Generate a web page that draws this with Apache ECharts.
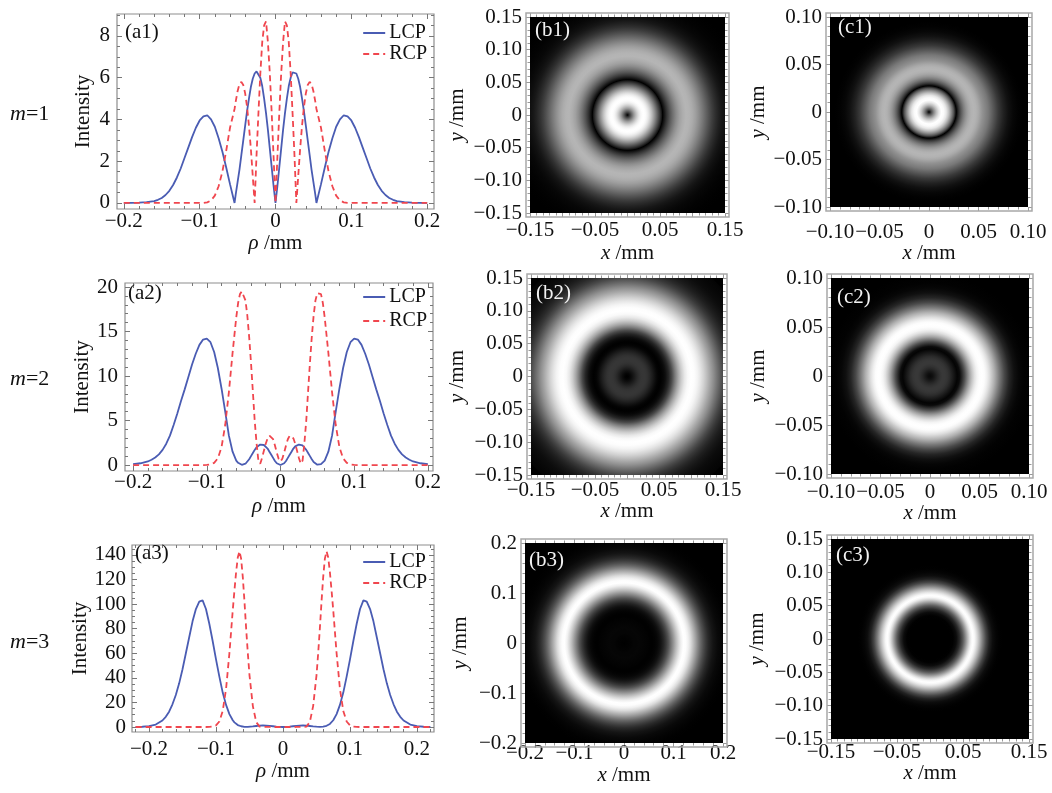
<!DOCTYPE html>
<html><head><meta charset="utf-8">
<script src="https://cdn.jsdelivr.net/npm/echarts@6/dist/echarts.min.js"></script>
<style>html,body{margin:0;padding:0;background:#fff}#c{width:1052px;height:793px}</style>
</head><body><div id="c"></div>
<script>
// ---------- DATA (positive-rho half of each symmetric profile) ----------
// m = 1
const rho1 = [0,0.0025,0.005,0.0075,0.01,0.0125,0.015,0.0175,0.02,0.0225,0.025,0.0275,0.03,0.0325,0.035,0.0375,0.04,0.0425,0.045,0.0475,0.05,0.0525,0.054,0.06,0.065,0.07,0.075,0.08,0.085,0.09,0.095,0.1,0.105,0.11,0.115,0.12,0.125,0.13,0.135,0.14,0.145,0.15,0.155,0.16,0.17,0.18,0.19,0.2];
const lcp1 = [0,0.8,1.7,2.6,3.5,4.3,5.0,5.6,6.0,6.25,6.3,6.2,5.95,5.55,5.0,4.4,3.7,3.0,2.3,1.6,1.0,0.4,0,0.9,1.7,2.45,3.1,3.65,4.0,4.2,4.15,3.95,3.6,3.15,2.65,2.15,1.65,1.22,0.86,0.58,0.38,0.24,0.15,0.09,0.035,0.012,0.004,0];
const rcp1 = [0,2.2,4.3,6.2,7.7,8.7,8.5,7.7,6.2,4.3,2.3,0,1.3,2.6,3.7,4.6,5.25,5.65,5.8,5.7,5.35,4.85,4.5,3.6,2.5,1.5,0.8,0.35,0.12,0.03,0.005,0,0,0,0,0,0,0,0,0,0,0,0,0,0,0,0,0];
// m = 2
const rho2 = [0,0.0025,0.005,0.0075,0.01,0.0125,0.015,0.0175,0.02,0.0225,0.025,0.0275,0.03,0.0325,0.035,0.0375,0.04,0.0425,0.045,0.0475,0.05,0.0525,0.055,0.0575,0.06,0.065,0.07,0.075,0.08,0.085,0.09,0.095,0.1,0.105,0.11,0.115,0.12,0.125,0.13,0.135,0.14,0.145,0.15,0.155,0.16,0.165,0.17,0.175,0.18,0.19,0.2];
const lcp2 = [0,0.05,0.2,0.45,0.8,1.15,1.5,1.85,2.1,2.25,2.3,2.3,2.2,2.0,1.7,1.35,1.0,0.65,0.35,0.15,0.04,0.03,0.1,0.25,0.5,1.5,3.3,6.0,8.6,10.9,12.7,13.8,14.2,14.1,13.5,12.5,11.3,9.9,8.5,7.2,5.8,4.5,3.3,2.4,1.7,1.2,0.85,0.6,0.4,0.2,0.1];
const rcp2 = [0.4,0.7,1.4,2.2,2.9,3.3,3.3,3.0,2.4,1.6,0.8,0.15,0.5,2.5,5.0,8.3,11.5,14.4,16.8,18.5,19.3,19.5,19.2,18.2,16.6,12.6,8.2,4.5,2.0,0.75,0.25,0.07,0.02,0,0,0,0,0,0,0,0,0,0,0,0,0,0,0,0,0,0];
// m = 3
const rho3 = [0,0.005,0.01,0.015,0.02,0.025,0.03,0.035,0.04,0.045,0.05,0.0525,0.055,0.0575,0.06,0.0625,0.065,0.0675,0.07,0.0725,0.075,0.08,0.085,0.09,0.095,0.1,0.105,0.11,0.115,0.12,0.125,0.13,0.135,0.14,0.145,0.15,0.155,0.16,0.165,0.17,0.175,0.18,0.19,0.2,0.21,0.22];
const lcp3 = [0,0.1,0.3,0.6,0.9,1.1,1.2,1.1,0.8,0.5,0.25,0.15,0.1,0.15,0.3,0.6,1.0,1.6,2.5,3.8,5.5,10.5,18,28,41,55,70,84,96,103,102,96,86,73,60,47,35.5,26,18.5,12.5,8.3,5.3,2.0,0.7,0.2,0.05];
const rcp3 = [0,0,0,0,0.02,0.05,0.08,0.3,4,17,42,60,80,102,122,137,143,138,126,111,95,60,31,13,4.5,1.3,0.3,0.05,0,0,0,0,0,0,0,0,0,0,0,0,0,0,0,0,0,0];

// tick labels
const a1XTicks = [-0.2,-0.1,0,0.1,0.2], a1YTicks = [0,2,4,6,8];
const a2XTicks = [-0.2,-0.1,0,0.1,0.2], a2YTicks = [0,5,10,15,20];
const a3XTicks = [-0.2,-0.1,0,0.1,0.2], a3YTicks = [0,20,40,60,80,100,120,140];
const b1XTicks = [-0.15,-0.05,0.05,0.15], b1YTicks = [-0.15,-0.1,-0.05,0,0.05,0.1,0.15];
const c1XTicks = [-0.1,-0.05,0,0.05,0.1],  c1YTicks = [-0.1,-0.05,0,0.05,0.1];
const b2XTicks = [-0.15,-0.05,0.05,0.15], b2YTicks = [-0.15,-0.1,-0.05,0,0.05,0.1,0.15];
const c2XTicks = [-0.1,-0.05,0,0.05,0.1],  c2YTicks = [-0.1,-0.05,0,0.05,0.1];
const b3XTicks = [-0.2,-0.1,0,0.1,0.2],   b3YTicks = [-0.2,-0.1,0,0.1,0.2];
const c3XTicks = [-0.15,-0.05,0.05,0.15], c3YTicks = [-0.15,-0.1,-0.05,0,0.05,0.1,0.15];
const seriesNames = ['LCP','RCP'];
const rowLabels = ['1','2','3'];

// ---------- LAYOUT / STYLE ----------
const FONT = '"Liberation Serif", "DejaVu Serif", serif';
const TXT = '#111';
const LCP_COLOR = '#4a5cb3', RCP_COLOR = '#f0464e';

const grids = [], xAxes = [], yAxes = [], series = [], graphics = [], titles = [], legends = [];

function fmt(v, d) {
  if (Math.abs(v) < 1e-9) return '0';
  return (v < 0 ? '\u2212' : '') + Math.abs(v).toFixed(d);
}
function stepVals(min, max, step) {
  const out = [];
  const s = Math.ceil(min / step - 1e-9), e = Math.floor(max / step + 1e-9);
  for (let k = s; k <= e; k++) out.push(+(k * step).toFixed(6));
  return out;
}
function nameStyle() {
  return { fontFamily: FONT, fontSize: 21, color: TXT,
           rich: { i: { fontStyle: 'italic', fontFamily: FONT, fontSize: 21, color: TXT } } };
}
function axisSet(kind, gi, c) {
  const arr = kind === 'x' ? xAxes : yAxes;
  const pos = kind === 'x' ? ['bottom', 'top'] : ['left', 'right'];
  const minors = stepVals(c.min, c.max, c.minorStep);
  const majors = c.majors;
  const base = { type: 'value', gridIndex: gi, min: c.min, max: c.max,
                 axisLine: { show: false, onZero: false }, splitLine: { show: false }, axisPointer: { show: false } };
  const tick = (vals, len) => ({ show: true, inside: c.inside, length: len, customValues: vals,
                                 lineStyle: { color: c.tickColor, width: 1 } });
  const mainIdx = arr.length;
  arr.push(Object.assign({}, base, {
    position: pos[0], axisTick: tick(majors, c.majorLen),
    axisLabel: { show: true, customValues: c.labels, formatter: v => fmt(v, c.dec), margin: c.margin,
                 fontFamily: FONT, fontSize: 21, color: TXT, hideOverlap: false },
    name: c.name, nameLocation: 'middle', nameGap: c.nameGap, nameTextStyle: nameStyle()
  }));
  arr.push(Object.assign({}, base, { position: pos[0], axisTick: tick(minors, c.minorLen), axisLabel: { show: false } }));
  arr.push(Object.assign({}, base, { position: pos[1], axisTick: tick(majors, c.majorLen), axisLabel: { show: false } }));
  arr.push(Object.assign({}, base, { position: pos[1], axisTick: tick(minors, c.minorLen), axisLabel: { show: false } }));
  return mainIdx;
}
function mirrored(rho, vals) {
  const pts = [];
  for (let i = rho.length - 1; i > 0; i--) pts.push([-rho[i], vals[i]]);
  for (let i = 0; i < rho.length; i++) pts.push([rho[i], vals[i]]);
  return pts;
}
function gray(t) {
  const g = Math.round(255 * Math.pow(Math.max(0, Math.min(1, t)), 0.85));
  return 'rgb(' + g + ',' + g + ',' + g + ')';
}
function panelLabel(text, x, y, color) {
  graphics.push({ type: 'text', x: x, y: y, z: 100,
    style: { text: text, fill: color, font: '21px ' + FONT, verticalAlign: 'middle', align: 'left' } });
}

// ---------- line panels ----------
const linePanels = [
  { id: '(a1)', rho: rho1, lcp: lcp1, rcp: rcp1, g: { left: 117, top: 14, width: 317, height: 195 },
    x: [-0.209, 0.209], y: [-0.29, 9.05], xt: a1XTicks, yt: a1YTicks, yMinor: 0.5,
    xMargin: 2, yMargin: 7, xGap: 18, yGap: 23.5, lab: [125, 32], legTop: 23, legGap: 1, row: 0, rowY: 115 },
  { id: '(a2)', rho: rho2, lcp: lcp2, rcp: rcp2, g: { left: 125, top: 283, width: 308, height: 188 },
    x: [-0.211, 0.207], y: [-0.67, 20.45], xt: a2XTicks, yt: a2YTicks, yMinor: 1,
    xMargin: 1, yMargin: 7, xGap: 25, yGap: 31.5, lab: [128, 293], legTop: 287, legGap: 4, row: 1, rowY: 380 },
  { id: '(a3)', rho: rho3, lcp: lcp3, rcp: rcp3, g: { left: 132, top: 545, width: 302, height: 187 },
    x: [-0.2254, 0.2254], y: [-4.07, 148.1], xt: a3XTicks, yt: a3YTicks, yMinor: 5,
    xMargin: 7, yMargin: 6, xGap: 28, yGap: 41.5, lab: [135, 553], legTop: 552, legGap: 1, row: 2, rowY: 643 }
];

linePanels.forEach(p => {
  const gi = grids.length;
  grids.push(Object.assign({ show: true, borderColor: '#8e8e8e', borderWidth: 1.2, backgroundColor: 'transparent' }, p.g));
  const xi = axisSet('x', gi, { min: p.x[0], max: p.x[1], majors: p.xt, labels: p.xt, dec: 1, minorStep: 0.02,
    inside: true, majorLen: 5, minorLen: 3, tickColor: '#777', margin: p.xMargin,
    name: '{i|\u03c1} /mm', nameGap: p.xGap });
  const yi = axisSet('y', gi, { min: p.y[0], max: p.y[1], majors: p.yt, labels: p.yt, dec: 0, minorStep: p.yMinor,
    inside: true, majorLen: 5, minorLen: 3, tickColor: '#777', margin: p.yMargin,
    name: 'Intensity', nameGap: p.yGap });
  series.push({ type: 'line', name: seriesNames[0], xAxisIndex: xi, yAxisIndex: yi, data: mirrored(p.rho, p.lcp),
    symbol: 'none', clip: true, lineStyle: { color: LCP_COLOR, width: 1.8 }, itemStyle: { color: LCP_COLOR }, z: 3 });
  series.push({ type: 'line', name: seriesNames[1], xAxisIndex: xi, yAxisIndex: yi, data: mirrored(p.rho, p.rcp),
    symbol: 'none', clip: true, lineStyle: { color: RCP_COLOR, width: 1.8, type: [6, 4] }, itemStyle: { color: RCP_COLOR }, z: 4 });
  legends.push({ orient: 'vertical', right: 1052 - 427, top: p.legTop, itemWidth: 22, itemHeight: 12, itemGap: p.legGap,
    padding: 0, selectedMode: false, data: seriesNames,
    itemStyle: { opacity: 0 },
    textStyle: { fontFamily: FONT, fontSize: 20, color: TXT, padding: [0, 0, 0, -1] } });
  panelLabel(p.id, p.lab[0], p.lab[1], TXT);
  titles.push({ text: '{i|m}=' + rowLabels[p.row], left: 10, top: p.rowY - 12, padding: 0,
    textStyle: { fontFamily: FONT, fontSize: 22, fontWeight: 'normal', color: TXT,
      rich: { i: { fontStyle: 'italic', fontFamily: FONT, fontSize: 22, color: TXT } } } });
});

// ---------- intensity images ----------
const imagePanels = [
  { id: '(b1)', rho: rho1, vals: lcp1, g: { left: 530, top: 17, width: 195, height: 196 }, r: 0.15,
    xt: b1XTicks, yt: b1YTicks, majors: b1YTicks, dec: 2, minor: 0.01, xMargin: 6.5, yMargin: 8, xGap: 30, yGap: 62.5, lab: [535, 30] },
  { id: '(c1)', rho: rho1, vals: rcp1, g: { left: 830, top: 17, width: 198, height: 190 }, r: 0.10,
    xt: c1XTicks, yt: c1YTicks, majors: c1YTicks, dec: 2, minor: 0.01, xMargin: 14.5, yMargin: 8, xGap: 36, yGap: 61.5, lab: [838, 27] },
  { id: '(b2)', rho: rho2, vals: lcp2, g: { left: 531, top: 278, width: 192, height: 197 }, r: 0.15,
    xt: b2XTicks, yt: b2YTicks, majors: b2YTicks, dec: 2, minor: 0.01, xMargin: 4.5, yMargin: 8, xGap: 26, yGap: 63.5, lab: [536, 293] },
  { id: '(c2)', rho: rho2, vals: rcp2, g: { left: 831, top: 278, width: 198, height: 196 }, r: 0.10,
    xt: c2XTicks, yt: c2YTicks, majors: c2YTicks, dec: 2, minor: 0.01, xMargin: 7.5, yMargin: 8, xGap: 27, yGap: 62.5, lab: [837, 297] },
  { id: '(b3)', rho: rho3, vals: lcp3, g: { left: 525, top: 543, width: 198, height: 200 }, r: 0.2,
    xt: b3XTicks, yt: b3YTicks, majors: b3YTicks, dec: 1, minor: 0.02, xMargin: 0, yMargin: 8, xGap: 19, yGap: 54.5, lab: [529, 560] },
  { id: '(c3)', rho: rho3, vals: rcp3, g: { left: 831, top: 539, width: 198, height: 200 }, r: 0.15,
    xt: c3XTicks, yt: c3YTicks, majors: c3YTicks, dec: 2, minor: 0.01, xMargin: 2.5, yMargin: 8, xGap: 17, yGap: 63.5, lab: [836, 555] }
];

imagePanels.forEach(p => {
  const gi = grids.length;
  grids.push(Object.assign({ show: true, backgroundColor: '#000', borderWidth: 0 }, p.g));
  const xi = axisSet('x', gi, { min: -p.r, max: p.r, majors: p.majors, labels: p.xt, dec: p.dec, minorStep: p.minor,
    inside: false, majorLen: 4, minorLen: 2.5, tickColor: '#999', margin: p.xMargin,
    name: '{i|x} /mm', nameGap: p.xGap });
  const yi = axisSet('y', gi, { min: -p.r, max: p.r, majors: p.majors, labels: p.yt, dec: p.dec, minorStep: p.minor,
    inside: false, majorLen: 4, minorLen: 2.5, tickColor: '#999', margin: p.yMargin,
    name: '{i|y} /mm', nameGap: p.yGap });
  const rho = p.rho, vals = p.vals;
  const R = rho[rho.length - 1];
  const vmax = Math.max.apply(null, vals);
  series.push({
    type: 'custom', xAxisIndex: xi, yAxisIndex: yi, clip: true, silent: true, z: 2,
    data: rho.map((r, i) => [r, 0, vals[i]]),
    renderItem: function (params, api) {
      if (params.dataIndex !== 0) return null;
      const c = api.coord([0, 0]);
      const s = api.size([R, R]);
      const stops = rho.map((r, i) => ({ offset: r / R, color: gray(vals[i] / vmax) }));
      return {
        type: 'circle', shape: { cx: c[0], cy: c[1], r: s[0] },
        originX: c[0], originY: c[1], scaleY: s[1] / s[0],
        style: { fill: { type: 'radial', x: 0.5, y: 0.5, r: 0.5, colorStops: stops, global: false } }
      };
    }
  });
  graphics.push({ type: 'rect', z: 50, shape: { x: p.g.left - 4, y: p.g.top - 4, width: p.g.width + 8, height: p.g.height + 8 },
    style: { fill: 'none', stroke: '#a8a8a8', lineWidth: 1.5 } });
  panelLabel(p.id, p.lab[0], p.lab[1], '#f2f2f2');
});

const chart = echarts.init(document.getElementById('c'), null, { renderer: 'canvas' });
chart.setOption({
  animation: false,
  backgroundColor: '#fff',
  title: titles,
  legend: legends,
  grid: grids,
  xAxis: xAxes,
  yAxis: yAxes,
  series: series,
  graphic: { elements: graphics }
});
</script>
</body></html>
